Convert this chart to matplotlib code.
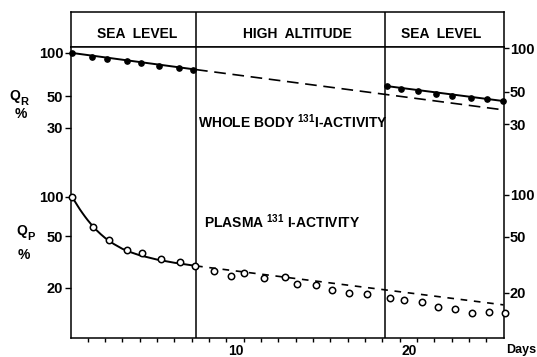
import matplotlib
matplotlib.use("Agg")
import matplotlib.pyplot as plt

plt.rcParams['font.family'] = ['Liberation Sans', 'DejaVu Sans']
plt.rcParams['font.weight'] = 'bold'
plt.rcParams['mathtext.fontset'] = 'custom'
plt.rcParams['mathtext.rm'] = 'Liberation Sans:bold'
plt.rcParams['mathtext.default'] = 'rm'

# phases (days where the subject moved)
phase_edges = [7.25, 18.15]
phase_names = ['SEA  LEVEL', 'HIGH  ALTITUDE', 'SEA  LEVEL']
phase_centers = [3.85, 13.1, 21.4]

# whole body 131I activity, Q_R (%)
wb_days_1 = [0.1, 1.25, 2.1, 3.25, 4.05, 5.1, 6.25, 7.1]
wb_vals_1 = [100, 93.8, 90.8, 87.9, 85.1, 81.1, 78.5, 76.0]
wb_days_2 = [18.25, 19.1, 20.05, 21.1, 22.05, 23.1, 24.05, 24.95]
wb_vals_2 = [58.8, 56.0, 54.2, 51.6, 50.3, 48.7, 47.4, 46.4]
wb_fit_days = [0.1, 7.25]
wb_fit_vals = [100, 76.5]
wb_ext_days = [7.25, 25]
wb_ext_vals = [76.5, 40.0]
wb_fit2_days = [18.2, 25]
wb_fit2_vals = [58.8, 46.1]

# plasma 131I activity, Q_P (%)
pl_days = [0.1, 1.3, 2.2, 3.25, 4.15, 5.2, 6.3, 7.2, 8.3, 9.25, 10.0, 11.15,
           12.4, 13.05, 14.15, 15.1, 16.1, 17.1, 18.45, 19.25, 20.3, 21.2,
           22.2, 23.2, 24.15, 25.1]
pl_vals = [100, 58.4, 47.1, 39.1, 37.3, 33.3, 31.4, 29.5, 26.9, 24.7, 26.2,
           23.7, 24.4, 21.4, 21.0, 19.2, 18.2, 17.8, 16.8, 16.1, 15.6, 14.3,
           13.7, 12.9, 13.0, 12.9]
pl_curve_days = [0.1, 0.25, 0.4, 0.55, 0.7, 0.85, 1.0, 1.25, 1.5, 1.75, 2.0,
                 2.5, 3.0, 3.5, 4.0, 5.0, 6.0, 7.25]
pl_curve_vals = [100, 92.6, 86.0, 80.0, 74.9, 70.3, 66.2, 60.4, 55.6, 51.7,
                 48.4, 43.5, 39.9, 37.5, 35.6, 33.0, 31.2, 29.5]
pl_ext_days = [7.25, 25]
pl_ext_vals = [29.5, 14.8]

qr_ticks = [100, 50, 30]
qp_ticks = [100, 50, 20]
x_labels = [10, 20]

W, H = 537, 357
fig = plt.figure(figsize=(W / 100, H / 100), dpi=100)


def px(x, y):
    return x / W, 1 - y / H


left, right, top, hdr, bottom = 70.5, 503.5, 12, 47, 338
rect = [left / W, (H - bottom) / H, (right - left) / W, (bottom - hdr) / H]

# header band
axh = fig.add_axes([left / W, (H - hdr) / H, (right - left) / W, (hdr - top) / H])
axh.set_xlim(0, 25)
axh.set_ylim(0, 1)
axh.set_xticks([])
axh.set_yticks([])
for s in axh.spines.values():
    s.set_linewidth(1.1)
for d in phase_edges:
    axh.axvline(d, color='k', lw=1.1)
for c, name in zip(phase_centers, phase_names):
    axh.text(c, 0.26, name, ha='center', va='baseline', fontsize=10)

# top panel: whole body
ax = fig.add_axes(rect)
ax.set_xlim(0, 25)
ax.set_yscale('log')
ax.set_ylim(1.016, 110.1)
for s in ax.spines.values():
    s.set_linewidth(1.1)
for d in phase_edges:
    ax.axvline(d, color='k', lw=1.1)
ax.plot(wb_fit_days, wb_fit_vals, color='k', lw=1.4)
ax.plot(wb_ext_days, wb_ext_vals, color='k', lw=1.2, ls=(0, (7, 4)))
ax.plot(wb_fit2_days, wb_fit2_vals, color='k', lw=1.4)
ax.plot(wb_days_1, wb_vals_1, 'o', color='k', ms=3.8, clip_on=False)
ax.plot(wb_days_2, wb_vals_2, 'o', color='k', ms=3.8, clip_on=False)
ax.set_yticks(qr_ticks)
ax.set_yticklabels([str(v) for v in qr_ticks])
ax.yaxis.set_minor_locator(plt.NullLocator())
ax.set_xticks(x_labels)
ax.set_xticklabels([str(v) for v in x_labels])
ax.set_xticks(range(1, 25), minor=True)
ax.tick_params(axis='x', which='both', direction='out', length=3, width=1.0,
               pad=1, labelsize=10)
ax.tick_params(axis='y', direction='out', length=4.3, width=1.0, pad=1,
               labelsize=10.5)
plt.setp(ax.get_xticklabels(), ha='right')
ax.text(0.2945, 0.7216, r'WHOLE BODY $^{131}$I-ACTIVITY',
        transform=ax.transAxes, ha='left', va='baseline', fontsize=10)
ax.text(0.3083, 0.378, r'PLASMA $^{131}$ I-ACTIVITY',
        transform=ax.transAxes, ha='left', va='baseline', fontsize=10)

axr = ax.twinx()
axr.set_yscale('log')
axr.set_ylim(1.032, 101.6)
axr.set_yticks(qr_ticks)
axr.set_yticklabels([str(v) for v in qr_ticks])
axr.yaxis.set_minor_locator(plt.NullLocator())
axr.tick_params(axis='y', direction='out', length=3.5, width=1.0, pad=1,
                labelsize=10.5)
for s in axr.spines.values():
    s.set_visible(False)

# bottom panel: plasma
axb = fig.add_axes(rect)
axb.patch.set_visible(False)
for s in axb.spines.values():
    s.set_visible(False)
axb.set_xlim(0, 25)
axb.set_yscale('log')
axb.set_ylim(8.23, 1425)
axb.plot(pl_curve_days, pl_curve_vals, color='k', lw=1.4)
axb.plot(pl_ext_days, pl_ext_vals, color='k', lw=1.2, ls=(0, (4, 4)))
axb.plot(pl_days, pl_vals, 'o', mfc='white', mec='k', mew=1.1, ms=4.6,
         clip_on=False)
axb.set_xticks([])
axb.set_yticks(qp_ticks)
axb.set_yticklabels([str(v) for v in qp_ticks])
axb.yaxis.set_minor_locator(plt.NullLocator())
axb.tick_params(axis='y', direction='out', length=4.3, width=1.0, pad=1,
                labelsize=10.5)

axbr = axb.twinx()
axbr.set_yscale('log')
axbr.set_ylim(9.51, 1124)
axbr.set_yticks(qp_ticks)
axbr.set_yticklabels([str(v) for v in qp_ticks])
axbr.yaxis.set_minor_locator(plt.NullLocator())
axbr.tick_params(axis='y', direction='out', length=3.5, width=1.0, pad=1,
                 labelsize=10.5)
for s in axbr.spines.values():
    s.set_visible(False)

# axis names
fig.text(*px(9, 100), 'Q', fontsize=10, ha='left', va='baseline')
fig.text(*px(20.5, 105), 'R', fontsize=8, ha='left', va='baseline')
fig.text(*px(15, 118), '%', fontsize=10, ha='left', va='baseline')
fig.text(*px(16, 235), 'Q', fontsize=10, ha='left', va='baseline')
fig.text(*px(27.5, 240), 'P', fontsize=8, ha='left', va='baseline')
fig.text(*px(18, 259), '%', fontsize=10, ha='left', va='baseline')
fig.text(*px(506, 353), 'Days', fontsize=9, ha='left', va='baseline')

fig.savefig('out.png', dpi=100)
